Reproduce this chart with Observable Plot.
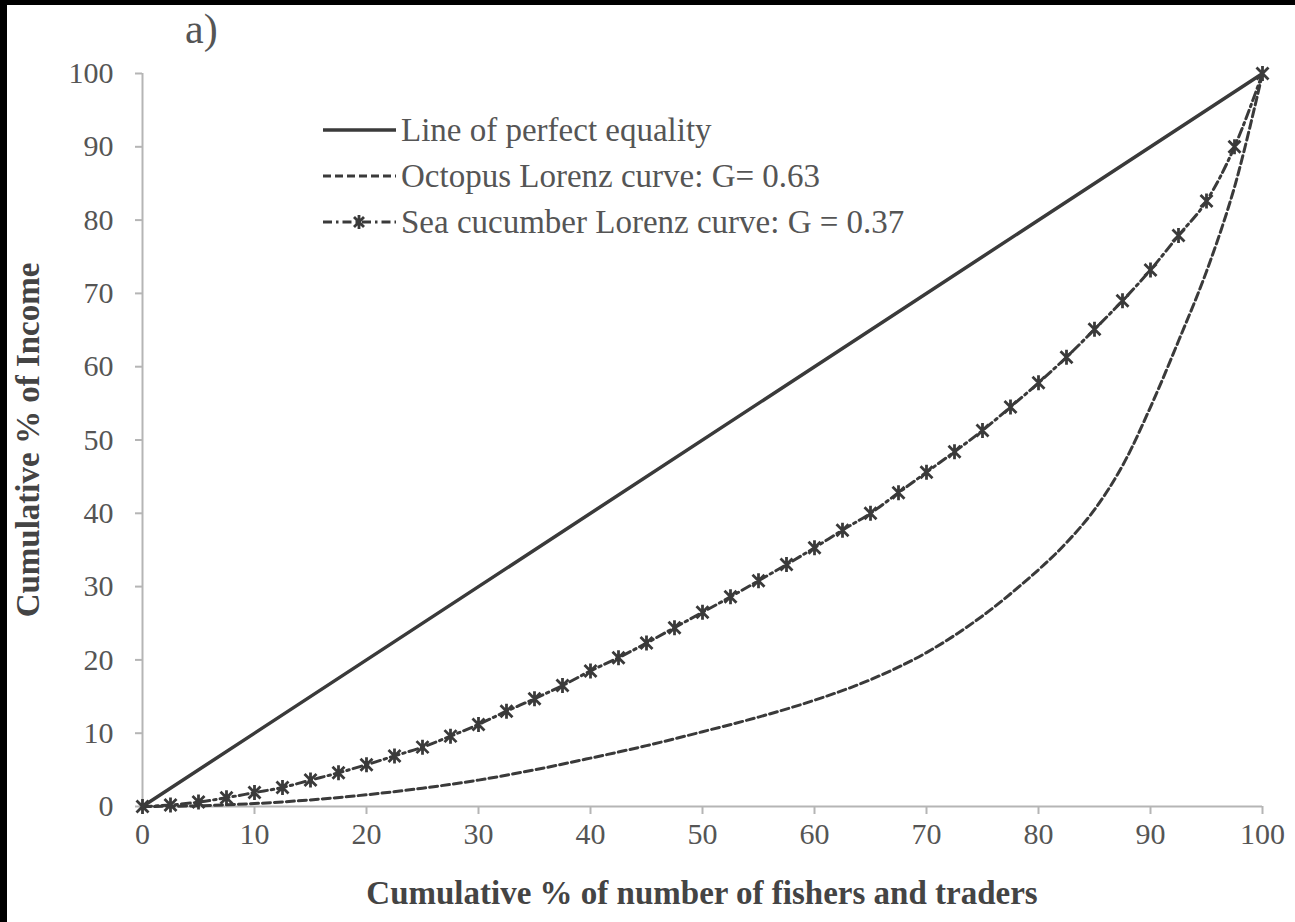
<!DOCTYPE html>
<html>
<head>
<meta charset="utf-8">
<script src="https://cdn.jsdelivr.net/npm/d3@7"></script>
<script src="https://cdn.jsdelivr.net/npm/@observablehq/plot@0.6"></script>
<style>
  html, body { margin: 0; padding: 0; background: #000; width: 1295px; height: 922px; overflow: hidden; }
  #panel { position: absolute; left: 7px; top: 5px; width: 1288px; height: 917px; background: #fff;
           font-family: "Liberation Serif", "Times New Roman", serif; }
  #chart { position: absolute; left: 0; top: 0; }
  #tag { position: absolute; left: 178px; top: 3px; font-size: 42px; line-height: 42px; color: #555; }
  #legend { position: absolute; left: 315px; top: 102px; font-size: 33px; color: #555; }
  .row { display: flex; align-items: center; height: 46px; white-space: nowrap; }
  .row svg { width: 75px; height: 20px; margin-right: 4px; flex: none; }
  #xtitle { position: absolute; left: 135px; width: 1120px; top: 870px; text-align: center;
            font-size: 33px; font-weight: bold; color: #444; line-height: 36px; white-space: nowrap; }
  #ytitle { position: absolute; left: 21px; top: 435px; transform: translate(-50%, -50%) rotate(-90deg);
            white-space: nowrap; font-size: 33px; font-weight: bold; color: #444; line-height: 36px; }
</style>
</head>
<body>
<div id="panel">
  <div id="chart"></div>
  <div id="tag">a)</div>
  <div id="legend"></div>
  <div id="xtitle"></div>
  <div id="ytitle"></div>
</div>
<script>
// ---- data ----
const equalityX = [0, 100];
const equalityY = [0, 100];

const octopusX = [0, 5, 10, 15, 20, 25, 30, 35, 40, 45, 50, 55, 60, 65, 70, 75, 80, 82.5, 85, 87.5, 90, 92.5, 95, 97.5, 100];
const octopusY = [0, 0.1, 0.4, 0.9, 1.6, 2.5, 3.6, 5.0, 6.6, 8.3, 10.2, 12.2, 14.5, 17.3, 21.0, 26.0, 32.3, 36.0, 40.5, 46.5, 54.5, 63.5, 73.0, 84.5, 100];

const seaCucumberX = [0, 2.5, 5, 7.5, 10, 12.5, 15, 17.5, 20, 22.5, 25, 27.5, 30, 32.5, 35, 37.5, 40, 42.5, 45, 47.5, 50,
  52.5, 55, 57.5, 60, 62.5, 65, 67.5, 70, 72.5, 75, 77.5, 80, 82.5, 85, 87.5, 90, 92.5, 95, 97.5, 100];
const seaCucumberY = [0, 0.2, 0.6, 1.2, 1.9, 2.6, 3.6, 4.6, 5.7, 6.9, 8.1, 9.6, 11.2, 13.0, 14.7, 16.5, 18.5, 20.3, 22.3, 24.4, 26.5,
  28.6, 30.8, 33.0, 35.3, 37.7, 40.0, 42.8, 45.6, 48.4, 51.3, 54.5, 57.8, 61.3, 65.1, 69.0, 73.2, 77.9, 82.6, 90.0, 100];

const xTicks = [0, 10, 20, 30, 40, 50, 60, 70, 80, 90, 100];
const yTicks = [0, 10, 20, 30, 40, 50, 60, 70, 80, 90, 100];

const seriesNames = ["Line of perfect equality", "Octopus Lorenz curve: G= 0.63", "Sea cucumber Lorenz curve: G = 0.37"];
const xTitle = "Cumulative % of number of fishers and traders";
const yTitle = "Cumulative % of Income";

// ---- styles ----
const ink = "#3a3a3a";
const axisGray = "#b5b5b5";

// Excel-like star marker: X plus vertical bar
const star = {
  draw(context, size) {
    const r = Math.sqrt(size / Math.PI);
    const a = r * 0.8;
    context.moveTo(-a, -a); context.lineTo(a, a);
    context.moveTo(-a, a); context.lineTo(a, -a);
    context.moveTo(0, -r); context.lineTo(0, r);
  }
};

const eq = equalityX.map((x, i) => ({x, y: equalityY[i]}));
const oct = octopusX.map((x, i) => ({x, y: octopusY[i]}));
const sea = seaCucumberX.map((x, i) => ({x, y: seaCucumberY[i]}));

const chart = Plot.plot({
  width: 1288,
  height: 917,
  marginLeft: 135,
  marginRight: 33,
  marginTop: 68,
  marginBottom: 116,
  style: { fontFamily: "'Liberation Serif', 'Times New Roman', serif", fontSize: "30px", background: "transparent", overflow: "visible" },
  x: { domain: [0, 100] },
  y: { domain: [0, 100] },
  marks: [
    Plot.axisX({ ticks: xTicks, tickSize: 8, tickPadding: 8, stroke: axisGray, strokeWidth: 2, fill: "#555", fontSize: 30, label: null }),
    Plot.axisY({ ticks: yTicks, tickSize: 7, tickPadding: 22, stroke: axisGray, strokeWidth: 2, fill: "#555", fontSize: 30, label: null }),
    Plot.ruleY([0], { stroke: axisGray, strokeWidth: 2 }),
    Plot.ruleX([0], { stroke: axisGray, strokeWidth: 2 }),
    Plot.line(oct, { x: "x", y: "y", curve: "catmull-rom", stroke: ink, strokeWidth: 3, strokeDasharray: "8,4" }),
    Plot.line(sea, { x: "x", y: "y", curve: "monotone-x", stroke: ink, strokeWidth: 3, strokeDasharray: "9,4,2.5,4" }),
    Plot.dot(sea, { x: "x", y: "y", symbol: star, r: 7.5, stroke: ink, strokeWidth: 2.8, fill: "none" }),
    Plot.line(eq, { x: "x", y: "y", stroke: ink, strokeWidth: 3.5 })
  ]
});
document.getElementById("chart").appendChild(chart);

document.getElementById("xtitle").textContent = xTitle;
document.getElementById("ytitle").textContent = yTitle;

// ---- legend ----
const legend = document.getElementById("legend");
const samples = [
  `<line x1="1" y1="10" x2="74" y2="10" stroke="${ink}" stroke-width="3.5"/>`,
  `<line x1="1" y1="10" x2="74" y2="10" stroke="${ink}" stroke-width="3" stroke-dasharray="8,4"/>`,
  `<line x1="1" y1="10" x2="74" y2="10" stroke="${ink}" stroke-width="3" stroke-dasharray="9,4,2.5,4"/>
   <path d="M32,5L42,15M32,15L42,5M37,3L37,17" stroke="${ink}" stroke-width="2.8" fill="none"/>`
];
seriesNames.forEach((name, i) => {
  const row = document.createElement("div");
  row.className = "row";
  row.innerHTML = `<svg viewBox="0 0 75 20">${samples[i]}</svg><span>${name}</span>`;
  legend.appendChild(row);
});
</script>
</body>
</html>
